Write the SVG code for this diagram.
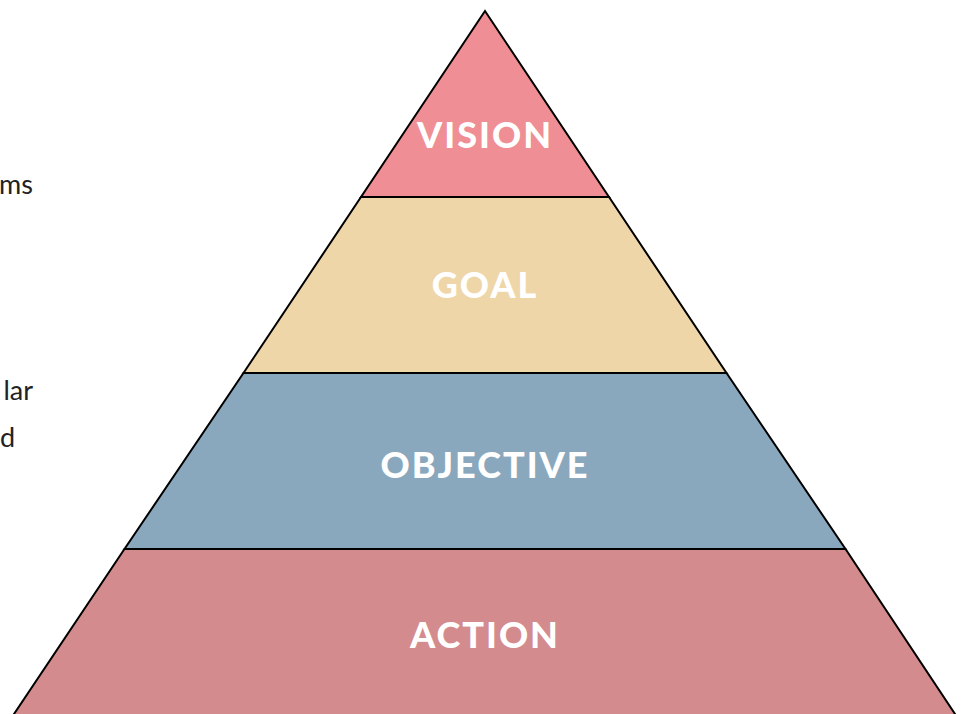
<svg xmlns="http://www.w3.org/2000/svg" width="963" height="714" viewBox="0 0 963 714">
<style>
.band{stroke:#000;stroke-width:2;stroke-linejoin:miter}
.lbl{font-family:Lato,"Open Sans","Liberation Sans",sans-serif;font-weight:900;font-size:36px;fill:#fff;text-anchor:middle;letter-spacing:2px}
.side{font-family:Lato,"Liberation Sans",sans-serif;font-size:27px;fill:#222;text-anchor:end}
</style>
<rect width="963" height="714" fill="#fff"/>
<g id="side-text">
<text class="side" x="33" y="194">ms</text>
<text class="side" x="33" y="400">lar</text>
<text class="side" x="15" y="447">d</text>
</g>
<g id="action">
<polygon class="band" fill="#D48B8D" points="124.5,549 845.5,549 957,717 12,717"/>
<text class="lbl" x="485" y="648">ACTION</text>
</g>
<g id="objective">
<polygon class="band" fill="#8AA8BD" points="243.5,373 726.5,373 845.5,549 124.5,549"/>
<text class="lbl" x="485" y="478">OBJECTIVE</text>
</g>
<g id="goal">
<polygon class="band" fill="#EED6A9" points="361,197 609,197 726.5,373 243.5,373"/>
<text class="lbl" x="485" y="298">GOAL</text>
</g>
<g id="vision">
<polygon class="band" fill="#EF8E95" points="485,11 609,197 361,197"/>
<text class="lbl" x="485" y="148">VISION</text>
</g>
</svg>
